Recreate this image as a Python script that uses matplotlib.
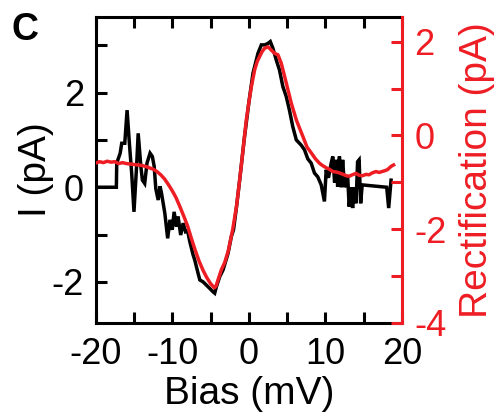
import matplotlib
matplotlib.use("Agg")
import matplotlib.pyplot as plt
from matplotlib.ticker import MultipleLocator, FixedLocator

plt.rcParams['font.family'] = ['Liberation Sans', 'DejaVu Sans']
plt.rcParams['axes.unicode_minus'] = False

# ---- data ----
bias_I = [-20, -17.3, -17.25, -16.8, -16.6, -16.2, -15.9, -15.6, -15.3, -15.0,
          -14.66, -14.45, -14.1, -13.9, -13.6, -13.3, -12.9, -12.6, -12.36, -12.15,
          -11.84, -11.6, -11.4, -10.97, -10.6, -10.3, -10.0, -9.76, -9.45, -9.24,
          -8.9, -8.58, -8.27, -8.0, -7.71, -7.28, -7.06, -6.63, -6.4, -5.98,
          -5.54, -5.1, -4.68, -4.46, -4.23, -3.8, -3.37, -2.72, -2.28, -2.0,
          -1.6, -1.2, -0.6, 0.0, 0.54, 1.19, 1.63, 2.06, 2.49, 2.8,
          3.14, 3.58, 4.0, 4.44, 4.88, 5.3, 5.74, 6.2, 6.84, 7.27,
          7.7, 8.14, 8.57, 9.0, 9.45, 9.87, 10.1, 10.4, 10.75, 10.96,
          11.2, 11.4, 11.6, 11.83, 12.05, 12.25, 12.5, 12.7, 12.9, 13.1,
          13.35, 13.55, 13.75, 14.0, 14.2, 14.4, 14.6, 14.8, 18.0, 18.26,
          18.57]
current = [0.0, 0.0, 0.51, 0.72, 0.93, 0.93, 1.63, 0.93, 0.30, -0.52,
           0.44, 1.14, 0.44, 0.15, 0.08, 0.51, 0.72, 0.65, 0.44, -0.03,
           -0.27, 0.02, -0.13, -0.55, -1.08, -0.69, -0.90, -0.52, -0.83, -0.62,
           -1.01, -0.76, -0.94, -0.92, -1.15, -1.43, -1.54, -1.82, -1.96, -2.00,
           -2.07, -2.14, -2.21, -2.24, -2.10, -1.89, -1.75, -1.40, -1.04, -0.90,
           -0.40, 0.15, 1.02, 1.79, 2.41, 2.83, 3.01, 3.01, 3.04, 3.08,
           2.94, 2.69, 2.48, 2.13, 1.92, 1.63, 1.28, 1.00, 0.89, 0.79,
           0.60, 0.51, 0.30, 0.22, 0.05, -0.30, 0.37, 0.20, 0.51, 0.65,
           0.10, 0.58, 0.01, 0.65, 0.00, 0.58, 0.00, 0.10, 0.25, -0.41,
           0.00, -0.44, 0.00, -0.34, 0.54, 0.58, -0.34, 0.05, 0.00, -0.44,
           0.15]

bias_R = [-20, -19.5, -19, -18.5, -18, -17.5, -17, -16.5, -16, -15.5,
          -15, -14.5, -14, -13.5, -13, -12.5, -12, -11.5, -11, -10.5,
          -10, -9.5, -9, -8.5, -8, -7.5, -7, -6.5, -6, -5.5,
          -5, -4.5, -4.3, -4.0, -3.6, -3.15, -2.7, -2.1, -1.6, -1.2,
          -0.9, -0.6, -0.33, 0.0, 0.33, 0.76, 1.1, 1.4, 1.7, 2.06,
          2.5, 2.93, 3.36, 3.8, 4.23, 4.9, 5.54, 6.2, 7.05, 7.6,
          8.14, 8.7, 9.2, 9.6, 10.1, 10.5, 10.96, 11.4, 11.83, 12.3,
          12.7, 13.13, 13.5, 14.0, 14.4, 14.84, 15.3, 15.7, 16.1, 16.6,
          17.0, 17.4, 17.8, 18.1, 18.57, 18.9]
rectification = [-0.59, -0.56, -0.58, -0.55, -0.57, -0.56, -0.60, -0.58, -0.60, -0.61,
                  -0.62, -0.63, -0.64, -0.66, -0.69, -0.72, -0.77, -0.84, -0.93, -1.05,
                  -1.18, -1.33, -1.52, -1.72, -1.93, -2.20, -2.45, -2.68, -2.87, -3.03,
                  -3.16, -3.25, -3.22, -3.07, -2.87, -2.71, -2.47, -2.00, -1.50, -0.95,
                  -0.52, -0.07, 0.33, 0.70, 1.04, 1.40, 1.58, 1.68, 1.78, 1.86,
                  1.89, 1.82, 1.75, 1.72, 1.54, 1.11, 0.69, 0.33, -0.02, -0.25,
                  -0.37, -0.50, -0.59, -0.64, -0.69, -0.72, -0.77, -0.78, -0.80, -0.83,
                  -0.86, -0.87, -0.84, -0.81, -0.85, -0.86, -0.83, -0.84, -0.80, -0.77,
                  -0.79, -0.77, -0.75, -0.73, -0.66, -0.63]

xticks_major = [-20, -10, 0, 10, 20]
yticks_left = [-2, 0, 2]
yticks_right = [-4, -2, 0, 2]

RED = '#EE1D24'
FS_TICK = 26
FS_LABEL = 28
LW = 2.5

fig = plt.figure(figsize=(5.02, 4.16), dpi=100)
ax = fig.add_axes([0.1906, 0.2236, 0.6102, 0.7349])
ax.plot(bias_I, current, color='black', lw=LW, solid_joinstyle='miter')
ax.set_xlim(-20, 20)
ax.set_ylim(-2.87, 3.594)
ax.xaxis.set_major_locator(FixedLocator(xticks_major))
ax.xaxis.set_minor_locator(MultipleLocator(5))
ax.yaxis.set_major_locator(FixedLocator(yticks_left))
ax.yaxis.set_minor_locator(MultipleLocator(1))
ax.tick_params(axis='both', which='both', direction='in', width=2.2, length=8,
               top=True, right=False)
ax.tick_params(axis='x', which='major', labelsize=FS_TICK, pad=10)
ax.tick_params(axis='y', which='major', labelsize=FS_TICK, pad=8.5)
for s in ax.spines.values():
    s.set_linewidth(2.2)
ax.spines['right'].set_visible(False)
ax.set_xlabel('Bias (mV)', fontsize=FS_LABEL)
ax.set_ylabel('I (pA)', fontsize=FS_LABEL)
ax.xaxis.set_label_coords(0.5, -0.175)
ax.yaxis.set_label_coords(-0.137, 0.5)

ax2 = ax.twinx()
ax2.plot(bias_R, rectification, color=RED, lw=LW)
ax2.set_ylim(-4, 2.52)
ax2.yaxis.set_major_locator(FixedLocator(yticks_right))
ax2.yaxis.set_minor_locator(MultipleLocator(1))
ax2.tick_params(axis='y', which='both', direction='in', width=2.2, length=8,
                color=RED, labelcolor=RED)
ax2.tick_params(axis='y', which='major', labelsize=FS_TICK, pad=9)
for name, s in ax2.spines.items():
    s.set_linewidth(2.2)
    if name != 'right':
        s.set_visible(False)
ax2.spines['right'].set_color(RED)
ax2.set_ylabel('Rectification (pA)', fontsize=FS_LABEL, color=RED)
ax2.yaxis.set_label_coords(1.187, 0.5)

fig.text(12 / 502, 1 - 12 / 416, 'C', fontsize=27, fontweight='bold',
         ha='left', va='top')

fig.savefig('out.png', dpi=100)
